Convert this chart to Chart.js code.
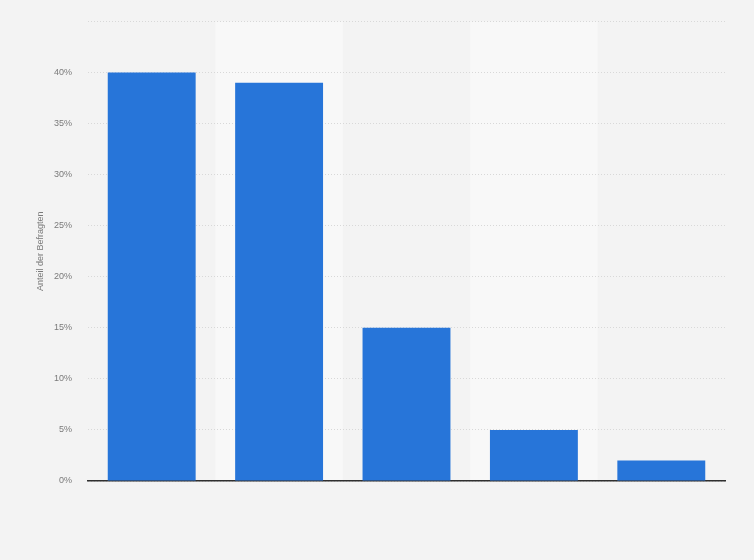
<!DOCTYPE html>
<html>
<head>
<meta charset="utf-8">
<script src="https://cdn.jsdelivr.net/npm/chart.js@4"></script>
<style>
html,body{margin:0;padding:0;background:#f3f3f3;}
#wrap{width:754px;height:560px;}
</style>
</head>
<body>
<div id="wrap"><canvas id="c" width="754" height="560"></canvas></div>
<script>
const categories = ['', '', '', '', ''];
const values = [40, 39, 15, 5, 2];
const yTicks = [0, 5, 10, 15, 20, 25, 30, 35, 40, 45];
const yTitle = 'Anteil der Befragten';

const bgPlugin = {
  id: 'bg',
  beforeDraw(chart) {
    const ctx = chart.ctx;
    const a = chart.chartArea;
    ctx.save();
    ctx.fillStyle = '#f3f3f3';
    ctx.fillRect(0, 0, chart.width, chart.height);
    const xs = chart.scales.x;
    const half = (xs.getPixelForValue(1) - xs.getPixelForValue(0)) / 2;
    ctx.fillStyle = '#f8f8f8';
    categories.forEach((c, i) => {
      if (i % 2 === 1) {
        const cx = xs.getPixelForValue(i);
        ctx.fillRect(cx - half, a.top, half * 2, a.bottom - a.top);
      }
    });
    ctx.restore();
  }
};

new Chart(document.getElementById('c'), {
  type: 'bar',
  data: {
    labels: categories,
    datasets: [{
      data: values,
      backgroundColor: '#2775d9',
      borderWidth: 0,
      categoryPercentage: 1,
      barPercentage: 0.69
    }]
  },
  options: {
    responsive: false,
    animation: false,
    devicePixelRatio: 1,
    layout: { padding: { left: 0, right: 29, top: 20, bottom: 0 } },
    plugins: { legend: { display: false }, tooltip: { enabled: false } },
    scales: {
      x: {
        grid: { display: false },
        border: { display: true, color: '#2f2f2f', width: 1.5 },
        ticks: { display: true, font: { size: 1 } },
        afterFit(s) { s.height = 79; }
      },
      y: {
        min: 0,
        max: 45,
        afterBuildTicks(s) { s.ticks = yTicks.map(v => ({ value: v })); },
        ticks: {
          padding: 16,
          color: '#7a7a7a',
          font: { family: 'Liberation Sans, Arial, sans-serif', size: 9 },
          callback: (v) => v === 45 ? '' : v + '%'
        },
        grid: { color: '#d8d8d8', lineWidth: 1, drawTicks: false },
        border: { display: false, dash: [1, 2] },
        title: {
          display: true,
          text: yTitle,
          color: '#7a7a7a',
          font: { family: 'Liberation Sans, Arial, sans-serif', size: 9 },
          padding: { top: 35, bottom: 0 }
        },
        afterFit(s) { s.width = 88; }
      }
    }
  },
  plugins: [bgPlugin]
});
</script>
</body>
</html>
